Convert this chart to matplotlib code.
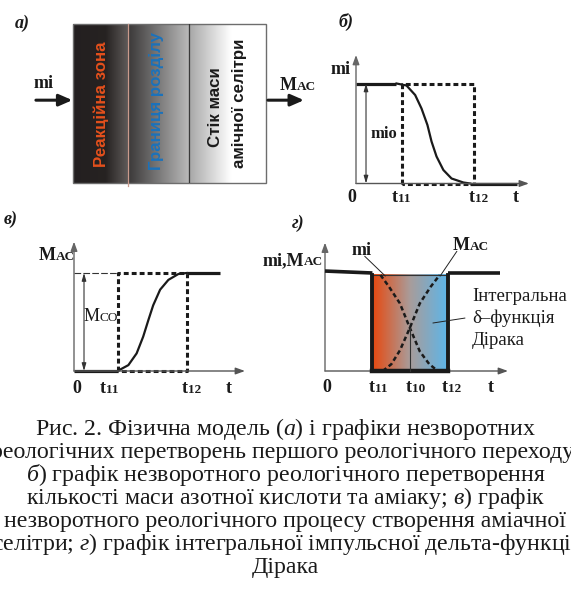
import numpy as np
import matplotlib
matplotlib.use("Agg")
import matplotlib.pyplot as plt
from matplotlib.colors import to_rgb
from matplotlib.patches import Rectangle
from matplotlib import font_manager

plt.rcParams["mathtext.fontset"] = "custom"
plt.rcParams["mathtext.rm"] = "Liberation Serif"
plt.rcParams["mathtext.it"] = "Liberation Serif:italic"

W, H, DPI = 571, 599, 100

# ---------------- data ----------------
T11, T10, T12 = 1.0, 1.8, 2.6
LEVEL = 1.0

# panel б : mi (decreasing)
b_top_t = [0.0, 0.89]
b_curve_t = [0.89, 1.11, 1.30, 1.44, 1.57, 1.66, 1.77, 1.92, 2.10, 2.36, 2.51]
b_curve_m = [1.0, 0.98, 0.885, 0.75, 0.585, 0.42, 0.27, 0.135, 0.05, 0.01, 0.0]
b_bot_t = [2.51, 3.54]

# panel в : MAC (increasing)
v_bot_t = [0.0, 1.0]
v_curve_t = [1.0, 1.25, 1.44, 1.59, 1.71, 1.82, 1.98, 2.17, 2.40, 2.59]
v_curve_m = [0.0, 0.06, 0.18, 0.35, 0.52, 0.67, 0.83, 0.93, 0.99, 1.0]
v_top_t = [2.59, 3.36]

# panel г : both + Dirac integral
g_left_t, g_left_m = [0.0, 1.0], [1.02, 1.0]
g_right_t, g_right_m = [2.6, 3.7], [1.0, 1.0]
g_mi_t = [1.17, 1.35, 1.58, 1.79, 2.00, 2.20, 2.38]
g_mi_m = [0.98, 0.86, 0.69, 0.44, 0.20, 0.07, 0.0]
g_mac_t = [1.22, 1.40, 1.58, 1.79, 2.00, 2.23, 2.42]
g_mac_m = [0.0, 0.07, 0.21, 0.44, 0.69, 0.86, 0.98]
g_cross = 0.44

caption = [
    r"Рис. 2. Фізична модель ($\mathit{а}$) і графіки незворотних",
    "реологічних перетворень першого реологічного переходу;",
    r"$\mathit{б}$) графік незворотного реологічного перетворення",
    r"кількості маси азотної кислоти та аміаку; $\mathit{в}$) графік",
    "незворотного реологічного процесу створення аміачної",
    r"селітри; $\mathit{г}$) графік інтегральної імпульсної дельта-функції",
    "Дірака",
]

INK = "#1a1a1a"
SERIF = "Liberation Serif"
names = {f.name for f in font_manager.fontManager.ttflist}
NARROW = "Liberation Sans Narrow" if "Liberation Sans Narrow" in names else "Liberation Sans"

fig = plt.figure(figsize=(W / DPI, H / DPI), dpi=DPI)

ov = fig.add_axes([0, 0, 1, 1])
ov.set_xlim(0, W)
ov.set_ylim(H, 0)
ov.axis("off")
ov.set_zorder(10)


def panel_axes(ox, oy, sx, sy, xlim, ylim):
    l = ox + xlim[0] * sx
    r = ox + xlim[1] * sx
    top = oy - ylim[1] * sy
    bot = oy - ylim[0] * sy
    ax = fig.add_axes([l / W, 1 - bot / H, (r - l) / W, (bot - top) / H])
    ax.set_xlim(xlim)
    ax.set_ylim(ylim)
    ax.axis("off")
    return ax


def axis_arrows(ax, xmax, ymax):
    st = "-|>,head_length=0.55,head_width=0.2"
    ax.annotate("", xy=(xmax, 0), xytext=(0, 0),
                arrowprops=dict(arrowstyle=st, lw=1.0, color="#555555",
                                shrinkA=0, shrinkB=0))
    ax.annotate("", xy=(0, ymax), xytext=(0, 0),
                arrowprops=dict(arrowstyle=st, lw=1.0, color="#666666",
                                shrinkA=0, shrinkB=0))


def dbl_arrow(ax, x):
    ax.annotate("", xy=(x, LEVEL), xytext=(x, 0),
                arrowprops=dict(arrowstyle="<|-|>,head_length=0.45,head_width=0.13",
                                lw=0.8, color="#333333", shrinkA=0, shrinkB=0))


def dashed_rect(ax):
    ax.plot([T11, T11, T12, T12, T11], [0, LEVEL, LEVEL, 0, 0], lw=2.2,
            ls=(0, (1.6, 1.0)), color=INK, solid_capstyle="butt")


def sc(x, y, big, small, fsb=13, fss=9.5, weight="bold"):
    ov.text(x, y, big, ha="right", va="baseline", fontsize=fsb,
            family=SERIF, weight=weight, color=INK)
    ov.text(x, y, small, ha="left", va="baseline", fontsize=fss,
            family=SERIF, weight=weight, color=INK)


def lab(x, y, s, fs=13, weight="bold", **kw):
    ov.text(x, y, s, ha="center", va="baseline", fontsize=fs,
            family=SERIF, weight=weight, color=INK, **kw)


# ---------------- panel а ----------------
bl, bt, br, bb = 73.3, 24.0, 266.0, 182.7
axa = fig.add_axes([bl / W, 1 - bb / H, (br - bl) / W, (bb - bt) / H])
axa.set_xlim(0, 1)
axa.set_ylim(0, 1)
axa.axis("off")
zone_edges = [0.0, 0.285, 0.60, 1.0]
sections = [
    [(0.0, "#231f20"), (0.6, "#272322"), (1.0, "#5e5a59")],
    [(0.0, "#3a3838"), (1.0, "#b9b9b9")],
    [(0.0, "#a6a6a6"), (0.55, "#ffffff"), (1.0, "#ffffff")],
]
N = 800
xs = (np.arange(N) + 0.5) / N
img = np.zeros((1, N, 3))
for i in range(3):
    a, b = zone_edges[i], zone_edges[i + 1]
    m = (xs >= a) & (xs < b)
    f = (xs[m] - a) / (b - a)
    pos = [p for p, _ in sections[i]]
    cols = np.array([to_rgb(c) for _, c in sections[i]])
    for ch in range(3):
        img[0, m, ch] = np.interp(f, pos, cols[:, ch])
axa.imshow(img, extent=[0, 1, 0, 1], aspect="auto", interpolation="bilinear")
axa.add_patch(Rectangle((0, 0), 1, 1, fill=False, ec="#6d6d6d", lw=1.0, clip_on=False))
axa.plot([zone_edges[1]] * 2, [-0.02, 1], color="#c99a8c", lw=0.9, clip_on=False)
axa.plot([zone_edges[2]] * 2, [0, 1], color="#3a3a3a", lw=0.9)
ast = "-|>,head_length=0.8,head_width=0.35"
axa.annotate("", xy=(-0.005, 0.52), xytext=(-0.194, 0.52), annotation_clip=False,
             arrowprops=dict(arrowstyle=ast, color=INK, lw=2.2, shrinkA=0, shrinkB=0))
axa.annotate("", xy=(1.197, 0.52), xytext=(1.01, 0.52), annotation_clip=False,
             arrowprops=dict(arrowstyle=ast, color=INK, lw=2.2, shrinkA=0, shrinkB=0))
zkw = dict(rotation=90, ha="center", va="center", fontsize=12.2, family=NARROW,
           weight="bold")
axa.text(0.146, 0.496, "Реакційна зона", color="#e4501c", **zkw)
axa.text(0.43, 0.516, "Границя розділу", color="#1b72bb", **zkw)
axa.text(0.738, 0.479, "Стік маси", color=INK, **zkw)
axa.text(0.865, 0.502, "амічної селітри", color=INK, **zkw)

lab(44, 88, "mi")
sc(297, 90, "M", "AC")
ov.text(22, 23, "а)", ha="center", va="center", fontsize=13, family=SERIF,
        weight="bold", style="italic", color=INK)

# ---------------- panel б ----------------
axb = panel_axes(356, 183.5, 45.5, 100, (-0.6, 4.0), (-0.3, 1.45))
axis_arrows(axb, 3.8, 1.285)
dashed_rect(axb)
axb.plot(b_top_t, [LEVEL] * 2, lw=2.3, color=INK, solid_capstyle="butt")
axb.plot(b_curve_t, b_curve_m, lw=1.6, color=INK)
axb.plot(b_bot_t, [0, 0], lw=2.3, color=INK, solid_capstyle="butt")
dbl_arrow(axb, 0.22)
lab(341, 74, "mi")
lab(384, 138, "mio", fs=12)
lab(352, 201.7, "0")
sc(398, 201.7, "t", "11")
sc(475, 201.7, "t", "12")
lab(516, 201.7, "t")
ov.text(346, 22, "б)", ha="center", va="center", fontsize=13, family=SERIF,
        weight="bold", style="italic", color=INK)

# ---------------- panel в ----------------
axv = panel_axes(74, 371, 43.5, 98, (-0.6, 4.2), (-0.3, 1.45))
axis_arrows(axv, 3.93, 1.32)
axv.plot([0, T11], [LEVEL] * 2, lw=0.8, ls=(0, (6, 2)), color="#333333")
dashed_rect(axv)
axv.plot(v_bot_t, [0, 0], lw=2.3, color=INK, solid_capstyle="butt")
axv.plot(v_curve_t, v_curve_m, lw=1.6, color=INK)
axv.plot(v_top_t, [LEVEL] * 2, lw=2.3, color=INK, solid_capstyle="butt")
dbl_arrow(axv, 0.23)
sc(56, 260, "M", "AC")
sc(100, 321, "M", "CO", fsb=13, fss=9.5, weight="normal")
lab(77, 393, "0")
sc(106, 393, "t", "11")
sc(188, 393, "t", "12")
lab(229, 393, "t")
ov.text(11, 219, "в)", ha="center", va="center", fontsize=13, family=SERIF,
        weight="bold", style="italic", color=INK)

# ---------------- panel г ----------------
axg = panel_axes(325, 371, 47.4, 98, (-0.6, 4.2), (-0.3, 1.45))
axis_arrows(axg, 3.86, 1.31)
grad = [(0.0, "#e8480e"), (0.5, "#a99c9a"), (1.0, "#5cb6ea")]
gx = (np.arange(400) + 0.5) / 400
gcols = np.array([to_rgb(c) for _, c in grad])
gimg = np.zeros((1, 400, 3))
for ch in range(3):
    gimg[0, :, ch] = np.interp(gx, [p for p, _ in grad], gcols[:, ch])
axg.imshow(gimg, extent=[T11, T12, 0, 0.98], aspect="auto", interpolation="bilinear",
           zorder=1)
axg.set_xlim(-0.6, 4.2)
axg.set_ylim(-0.3, 1.45)
axg.plot([T11, T12], [0.98, 0.98], lw=0.8, color="#333333", zorder=2)
axg.plot([T11, T11], [0, 0.98], lw=2.8, color=INK, zorder=3)
axg.plot([T12, T12], [0, 0.98], lw=2.8, color=INK, zorder=3)
axg.plot([T11, T12], [0, 0], lw=3.2, color=INK, zorder=3)
axg.plot(g_left_t, g_left_m, lw=2.6, color=INK, solid_capstyle="butt", zorder=3)
axg.plot(g_right_t, g_right_m, lw=2.6, color=INK, solid_capstyle="butt", zorder=3)
axg.plot(g_mi_t, g_mi_m, lw=1.8, ls=(0, (1.8, 1.2)), color=INK, zorder=4)
axg.plot(g_mac_t, g_mac_m, lw=1.8, ls=(0, (1.8, 1.2)), color=INK, zorder=4)
axg.plot([T10, T10], [0, g_cross], lw=0.8, color="#333333", zorder=4)
axg.plot([0.84, 1.27], [1.17, 0.97], lw=0.7, color="#222222", zorder=4, clip_on=False)
axg.plot([2.78, 2.43], [1.22, 0.97], lw=0.7, color="#222222", zorder=4, clip_on=False)
axg.plot([2.28, 2.95], [0.49, 0.54], lw=0.7, color="#222222", zorder=4)

sc(304, 265, "mi,M", "AC")
lab(362, 255, "mi")
sc(470, 250, "M", "AC")
for yb, s in zip([301, 323, 345], ["Інтегральна", "δ–функція", "Дірака"]):
    ov.text(472, yb, s, ha="left", va="baseline", fontsize=13.5, family=SERIF, color=INK)
lab(327, 391.7, "0")
sc(375, 391.7, "t", "11")
sc(412, 391.7, "t", "10")
sc(448, 391.7, "t", "12")
lab(491, 391.7, "t")
ov.text(298, 223, "г)", ha="center", va="center", fontsize=13, family=SERIF,
        weight="bold", style="italic", color=INK)

# ---------------- caption ----------------
for i, s in enumerate(caption):
    ov.text(285.5, 435 + 23 * i, s, ha="center", va="baseline", fontsize=17.2,
            family=SERIF, color=INK)

fig.savefig("out.png", dpi=DPI)
